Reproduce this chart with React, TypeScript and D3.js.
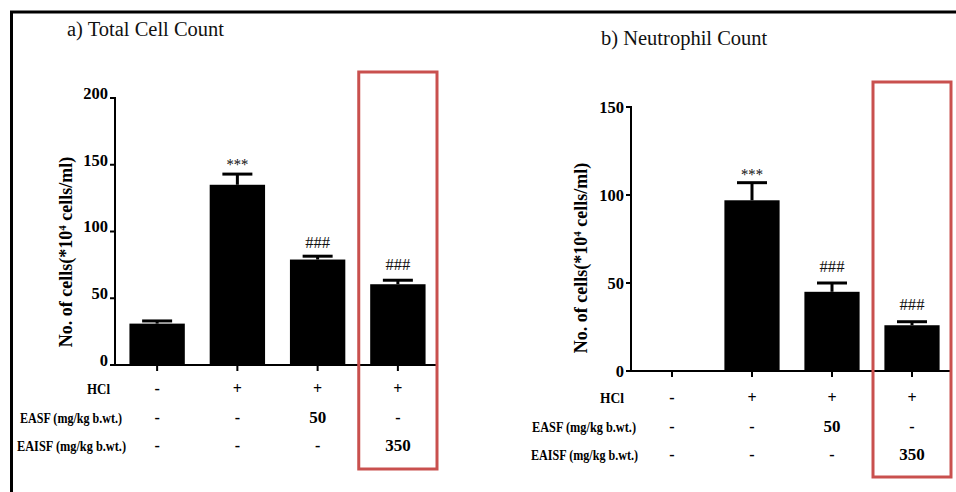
import { scaleBand, scaleLinear } from 'd3';

const groups = ['G1', 'G2', 'G3', 'G4'];

// Total cell count (*10^4 cells/ml)
const totalMean = [31, 135, 79, 60.5];
const totalSem = [2, 8, 2.5, 3];
const totalMarks = ['', '***', '###', '###'];
const totalTicks = [0, 50, 100, 150, 200];

// Neutrophil count
const neutroMean = [0, 97, 45, 26];
const neutroSem = [0, 10, 5, 2];
const neutroMarks = ['', '***', '###', '###'];
const neutroTicks = [0, 50, 100, 150];

// treatment table under the bars
const rowLabels = ['HCl', 'EASF (mg/kg b.wt.)', 'EAISF (mg/kg b.wt.)'];
const hclRow = ['-', '+', '+', '+'];
const easfRow = ['-', '-', '50', '-'];
const eaisfRow = ['-', '-', '-', '350'];

const serif = '"Liberation Serif", "Times New Roman", serif';
const boxRed = '#c9504e';

type PanelProps = {
  title: string;
  titleX: number;
  titleY: number;
  mean: number[];
  sem: number[];
  marks: string[];
  ticks: number[];
  yMax: number;
  axisX: number;
  yTop: number;
  yBottom: number;
  xRange: [number, number];
  axisRight: number;
  tickDy: number;
  yLabelX: number;
  yLabelY: number;
  rowY: number[];
  rowLabelX: number[];
  rowLabelW: number[];
  boxTop: number;
  boxBottom: number;
  markGap: number[];
};

function Panel(p: PanelProps) {
  const x = scaleBand<string>()
    .domain(groups)
    .range(p.xRange)
    .paddingInner(0.31)
    .paddingOuter(0.155);
  const y = scaleLinear().domain([0, p.yMax]).range([p.yBottom, p.yTop]);
  const bw = x.bandwidth();
  const step = x.step();
  const rows = [hclRow, easfRow, eaisfRow];
  const cx = (g: string) => (x(g) ?? 0) + bw / 2;
  const lastCenter = cx(groups[groups.length - 1]);

  return (
    <g>
      <text x={p.titleX} y={p.titleY} fontFamily={serif} fontSize={20.5} fill="#111">
        {p.title}
      </text>

      {/* bars */}
      {groups.map((g, i) =>
        p.mean[i] > 0 ? (
          <rect
            key={g}
            x={x(g)}
            y={y(p.mean[i])}
            width={bw}
            height={y(0) - y(p.mean[i])}
            fill="#000"
          />
        ) : null
      )}

      {/* error bars (upper only) */}
      {groups.map((g, i) => {
        if (p.sem[i] <= 0) return null;
        const top = y(p.mean[i] + p.sem[i]);
        return (
          <g key={g} stroke="#000" strokeWidth={3}>
            <line x1={cx(g)} x2={cx(g)} y1={y(p.mean[i])} y2={top} />
            <line x1={cx(g) - 15} x2={cx(g) + 15} y1={top} y2={top} />
          </g>
        );
      })}

      {/* significance marks */}
      {groups.map((g, i) =>
        p.marks[i] ? (
          <text
            key={g}
            x={cx(g)}
            y={y(p.mean[i] + p.sem[i]) - p.markGap[i]}
            textAnchor="middle"
            fontFamily={serif}
            fontSize={p.marks[i] === '***' ? 16 : 17}
            fill="#111"
            textLength={p.marks[i] === '***' ? 22 : 25}
            lengthAdjust="spacingAndGlyphs"
          >
            {p.marks[i]}
          </text>
        ) : null
      )}

      {/* y axis */}
      <line x1={p.axisX} x2={p.axisX} y1={y(p.yMax) - 1} y2={y(0) + 1} stroke="#000" strokeWidth={2} />
      {p.ticks.map((t) => (
        <g key={t}>
          <line x1={p.axisX - 5} x2={p.axisX} y1={y(t)} y2={y(t)} stroke="#000" strokeWidth={2} />
          <text
            x={p.axisX - 7}
            y={y(t) + p.tickDy}
            dy="0.35em"
            textAnchor="end"
            fontFamily={serif}
            fontWeight="bold"
            fontSize={16.5}
            fill="#000"
          >
            {t}
          </text>
        </g>
      ))}

      {/* x axis */}
      <line x1={p.axisX - 4} x2={p.axisRight} y1={y(0)} y2={y(0)} stroke="#000" strokeWidth={2} />
      {groups.map((g) => (
        <line key={g} x1={cx(g)} x2={cx(g)} y1={y(0)} y2={y(0) + 6} stroke="#000" strokeWidth={2} />
      ))}

      {/* y label */}
      <text
        transform={`translate(${p.yLabelX},${p.yLabelY}) rotate(-90)`}
        textAnchor="middle"
        fontFamily={serif}
        fontWeight="bold"
        fontSize={18}
        fill="#000"
      >
        No. of cells(*10<tspan baselineShift="super" fontSize={11}>4</tspan> cells/ml)
      </text>

      {/* treatment table */}
      {rowLabels.map((lab, r) => (
        <text
          key={lab}
          x={p.rowLabelX[r]}
          y={p.rowY[r]}
          fontFamily={serif}
          fontWeight="bold"
          fontSize={14}
          fill="#000"
          textLength={p.rowLabelW[r]}
          lengthAdjust="spacingAndGlyphs"
        >
          {lab}
        </text>
      ))}
      {rows.map((row, r) =>
        row.map((v, i) => (
          <text
            key={`${r}-${i}`}
            x={cx(groups[i])}
            y={p.rowY[r]}
            textAnchor="middle"
            fontFamily={serif}
            fontWeight="bold"
            fontSize={v === '-' || v === '+' ? 16 : 17}
            fill="#000"
          >
            {v}
          </text>
        ))
      )}

      {/* highlight box around last group */}
      <rect
        x={lastCenter - step / 2 + 1}
        y={p.boxTop}
        width={step - 2}
        height={p.boxBottom - p.boxTop}
        fill="none"
        stroke={boxRed}
        strokeWidth={3}
      />
    </g>
  );
}

export default function App() {
  return (
    <svg
      width={956}
      height={492}
      style={{ position: 'absolute', left: 0, top: 0, display: 'block', background: '#fff' }}
    >
      <rect width={956} height={492} fill="#fff" />
      <line x1={10} x2={956} y1={12} y2={12} stroke="#000" strokeWidth={3} />
      <line x1={11.5} x2={11.5} y1={11} y2={492} stroke="#000" strokeWidth={3} />

      <Panel
        title="a)  Total Cell Count"
        titleX={67}
        titleY={36}
        mean={totalMean}
        sem={totalSem}
        marks={totalMarks}
        ticks={totalTicks}
        yMax={200}
        axisX={115}
        yTop={98}
        yBottom={365}
        xRange={[117, 438]}
        axisRight={437}
        tickDy={-5}
        yLabelX={72}
        yLabelY={252}
        rowY={[394, 423, 451]}
        rowLabelX={[87, 20, 17]}
        rowLabelW={[23, 102, 109]}
        boxTop={72}
        boxBottom={469}
        markGap={[0, 4, 8, 10]}
      />

      <Panel
        title="b) Neutrophil Count"
        titleX={601}
        titleY={45}
        mean={neutroMean}
        sem={neutroSem}
        marks={neutroMarks}
        ticks={neutroTicks}
        yMax={150}
        axisX={631}
        yTop={107}
        yBottom={371}
        xRange={[632, 952]}
        axisRight={952}
        tickDy={0}
        yLabelX={587}
        yLabelY={258}
        rowY={[403, 432, 460]}
        rowLabelX={[600, 532, 531]}
        rowLabelW={[24, 104, 107]}
        boxTop={82}
        boxBottom={477}
        markGap={[0, 3, 11, 12]}
      />
    </svg>
  );
}
